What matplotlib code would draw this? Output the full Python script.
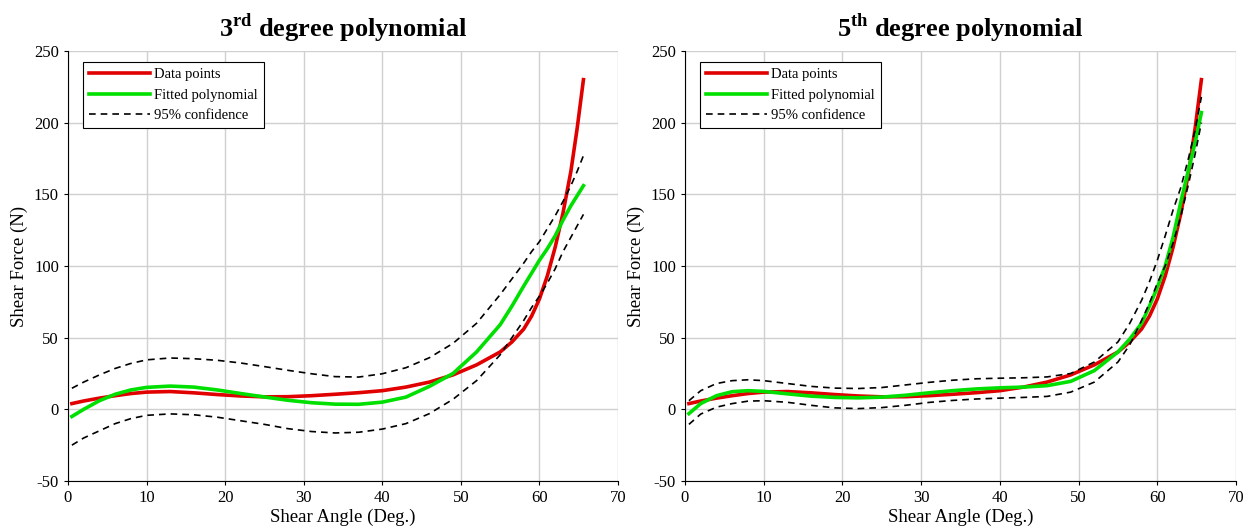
import matplotlib.pyplot as plt

plt.rcParams['font.family'] = 'Liberation Serif'
plt.rcParams['mathtext.fontset'] = 'custom'
plt.rcParams['mathtext.rm'] = 'Liberation Serif:bold'
plt.rcParams['mathtext.bf'] = 'Liberation Serif:bold'
plt.rcParams['axes.unicode_minus'] = False

# shear angle samples (deg)
angle = [0.5, 2, 4, 6, 8, 10, 13, 16, 19, 22, 25, 28, 31, 34, 37, 40, 43, 46,
         49, 52, 55, 56.5, 58, 59, 60, 61, 62, 63, 64, 64.8, 65.6]

# measured shear force (N)
data = [4, 5.8, 7.8, 9.5, 11, 12, 12.4, 11.5, 10.3, 9.3, 8.7, 8.8, 9.5, 10.5,
        11.6, 13, 15.5, 19, 24, 31, 40, 47, 56, 65, 77, 93, 113, 137, 166, 196, 230]

# 3rd degree fit and 95% bounds
fit3 = [-5, 0, 6, 10.5, 13.5, 15.3, 16.2, 15.5, 13.5, 11, 8.6, 6.3, 4.6, 3.6,
        3.5, 5, 8.5, 16, 25, 40, 59, 72, 86, 95, 104, 112, 121, 132, 142, 149, 156]
upper3 = [14.7, 19, 24, 28.5, 32, 34.5, 35.8, 35.3, 34.2, 32.3, 29.8, 27.2,
          24.8, 22.8, 22.5, 24.8, 29, 36, 46, 60, 80, 91, 102, 110, 117, 126,
          135, 145, 156, 166, 177]
lower3 = [-25, -20, -15, -10, -6.5, -4.2, -3.2, -3.8, -5.5, -8, -10.5, -13.5,
          -15.5, -16.5, -16, -13.8, -10, -3, 7, 20, 38, 50, 62, 71, 79, 88, 98,
          110, 120, 128, 136]

# 5th degree fit and 95% bounds
fit5 = [-3, 4, 9.5, 12.3, 13, 12.5, 10.8, 9.2, 8.3, 8, 8.5, 9.8, 11.5, 13,
        14.2, 15, 15.5, 16.5, 19.5, 27, 40, 49, 60, 72, 85, 100, 120, 145, 168,
        186, 207]
upper5 = [6, 13, 18, 20, 20.6, 20, 18, 16, 14.8, 14.5, 15.2, 17, 18.8, 20.3,
          21.3, 21.7, 22, 22.6, 25, 33, 47, 60, 76, 89, 104, 121, 139, 155, 176,
          195, 218]
lower5 = [-10.5, -3.3, 1.5, 4, 5.7, 6, 4.9, 2.8, 1, 0.5, 1.2, 2.8, 4.8, 6.2,
          7.2, 7.8, 8.3, 9, 12, 19, 33, 45, 62, 74, 88, 100, 116, 135, 158, 178, 200]

titles = [r'3$^{\mathrm{rd}}$ degree polynomial', r'5$^{\mathrm{th}}$ degree polynomial']
fits = [fit3, fit5]
uppers = [upper3, upper5]
lowers = [lower3, lower5]

fig = plt.figure(figsize=(12.45, 5.32), dpi=100)
positions = [[0.0546, 0.0959, 0.4418, 0.8083], [0.5502, 0.0959, 0.4426, 0.8083]]

for i in range(2):
    ax = fig.add_axes(positions[i])
    ax.plot(angle, data, color='#e00000', linewidth=2.6, label='Data points')
    ax.plot(angle, fits[i], color='#00e000', linewidth=2.6, label='Fitted polynomial')
    ax.plot(angle, uppers[i], color='black', linestyle='--', linewidth=1.2,
            dashes=(4, 3), label='95% confidence')
    ax.plot(angle, lowers[i], color='black', linestyle='--', linewidth=1.2,
            dashes=(4, 3))
    ax.set_xlim(0, 70)
    ax.set_ylim(-50, 250)
    ax.set_xticks(range(0, 71, 10))
    ax.set_yticks(range(-50, 251, 50))
    ax.grid(True, color='#d0d0d0', linewidth=1)
    ax.set_axisbelow(True)
    ax.spines['top'].set_visible(False)
    ax.spines['right'].set_visible(False)
    ax.tick_params(labelsize=12, length=3, width=0.8)
    ax.set_xlabel('Shear Angle (Deg.)', fontsize=13.5, labelpad=2)
    ax.set_ylabel('Shear Force (N)', fontsize=13.5, labelpad=4)
    ax.set_title(titles[i], fontsize=19, fontweight='bold', pad=10)
    leg = ax.legend(loc='upper left', fontsize=10.5, fancybox=False,
                    edgecolor='black', framealpha=1, handlelength=4.2,
                    handletextpad=0.3, borderpad=0.4, labelspacing=0.5,
                    borderaxespad=0, bbox_to_anchor=(0.027, 0.974))
    leg.get_frame().set_linewidth(0.8)

fig.savefig('out.png', dpi=100)
